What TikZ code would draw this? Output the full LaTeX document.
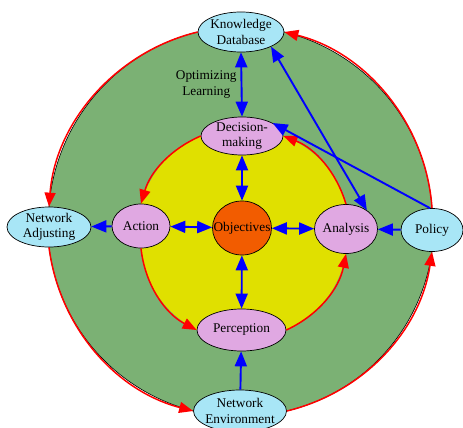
\documentclass[tikz,border=0pt]{standalone}
\usepackage{fontspec}
\setmainfont{Liberation Serif}
\usetikzlibrary{shapes.geometric, arrows.meta, positioning, backgrounds}
\definecolor{cogGreen}{HTML}{7BB174}
\definecolor{cogYellow}{HTML}{E0E000}
\definecolor{cogOrange}{HTML}{F25C00}
\definecolor{cogPink}{HTML}{E0A8E2}
\definecolor{cogCyan}{HTML}{A8E6F6}

\begin{document}
\begin{tikzpicture}[x=1pt, y=-1pt,
  every node/.style={font=\fontsize{13.3}{15.5}\selectfont, align=center},
  bubble/.style={ellipse, draw, line width=0.7pt, inner xsep=-12pt, inner ysep=-6pt},
  outerbubble/.style={bubble, fill=cogCyan},
  innerbubble/.style={bubble, fill=cogPink},
  bluelink/.style={draw=blue, line width=1.9pt, -{Triangle[length=15pt, width=12pt]}},
  twoway/.style={bluelink, {Triangle[length=15pt, width=12pt]}-{Triangle[length=15pt, width=12pt]}},
  ring/.style={bend right=#1, looseness=0.94},
  redarc/.style={draw=red, line width=1.5pt, -{Triangle[length=14pt, width=11pt]}, ring=#1}]
  \useasboundingbox (0,0) rectangle (463,428);

  % nodes
  \node[outerbubble, minimum width=86pt, minimum height=40pt] (kd) at (241,32) {Knowledge\\Database};
  \node[innerbubble, minimum width=82pt, minimum height=38pt] (dm) at (242,136) {Decision-\\making};
  \node[bubble, fill=cogOrange, minimum width=59pt, minimum height=54pt] (obj) at (242,228) {Objectives};
  \node[innerbubble, minimum width=58pt, minimum height=44pt] (act) at (141,226) {Action};
  \node[innerbubble, minimum width=63pt, minimum height=49pt] (ana) at (346,229) {Analysis};
  \node[outerbubble, minimum width=84pt, minimum height=40pt] (adj) at (49,227) {Network\\Adjusting};
  \node[outerbubble, minimum width=62pt, minimum height=43pt] (pol) at (432,230) {Policy};
  \node[innerbubble, minimum width=89pt, minimum height=42pt] (per) at (241.5,330) {Perception};
  \node[outerbubble, minimum width=93pt, minimum height=42pt] (env) at (240,411) {Network\\Environment};

  \begin{scope}[on background layer]
    \filldraw[fill=cogGreen, draw=black, line width=0.6pt]
      (kd.west) to[ring=36] (adj.north) -- (adj.south) to[ring=34] (env.west)
      -- (env.east) to[ring=34] (pol.south) -- (pol.north) to[ring=36] (kd.east) -- cycle;
    \fill[cogYellow]
      (dm.west) to[ring=25] (act.north) -- (act.south) to[ring=28] (per.west)
      -- (per.east) to[ring=27] (ana.south) -- (ana.north) to[ring=26] (dm.east) -- cycle;
  \end{scope}

  % outer cycle
  \draw[redarc=36] (kd.west) to (adj.north);
  \draw[redarc=34] (adj.south) to (env.west);
  \draw[redarc=34] (env.east) to (pol.south);
  \draw[redarc=36] (pol.north) to (kd.east);
  % inner cycle
  \draw[redarc=25] (dm.west) to (act.north);
  \draw[redarc=28] (act.south) to (per.west);
  \draw[redarc=27] (per.east) to (ana.south);
  \draw[redarc=26] (ana.north) to (dm.east);

  % blue links
  \draw[twoway] (kd.south) -- (dm.north)
    node[midway, left=3pt, inner sep=1pt] (optlbl) {Optimizing\\Learning};
  \draw[twoway] (dm) -- (obj);
  \draw[twoway] (obj) -- (act);
  \draw[twoway] (obj) -- (ana);
  \draw[twoway] (obj) -- (per);
  \draw[twoway] (kd.-26) -- (ana.42);
  \draw[bluelink] (pol.95) -- (dm.23);
  \draw[bluelink] (pol) -- (ana);
  \draw[bluelink] (act) -- (adj);
  \draw[bluelink] (env) -- (per);
\end{tikzpicture}
\end{document}
